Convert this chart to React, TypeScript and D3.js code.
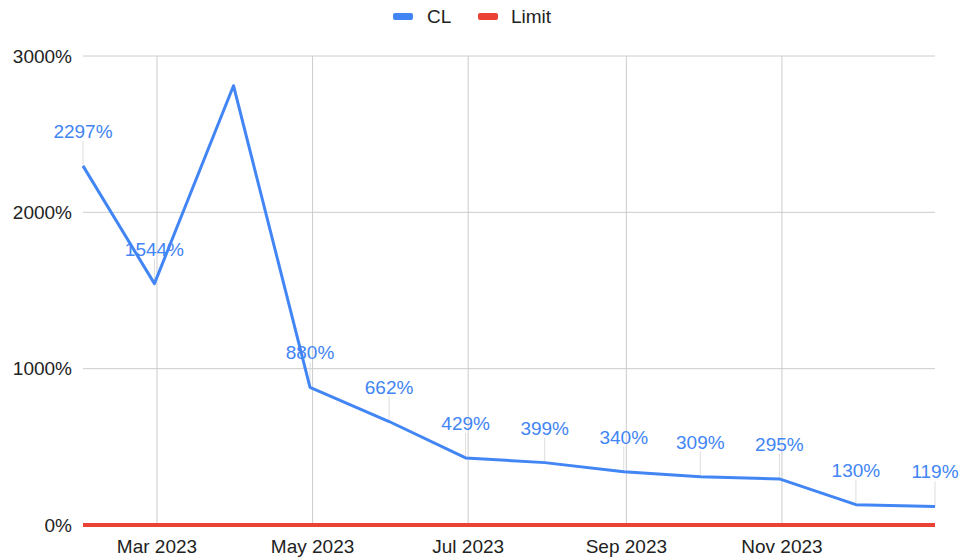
import React, { useEffect } from "react";
import * as d3 from "d3";

// month-end dates, Jan 2023 .. Dec 2023
const dates: string[] = [
  "2023-01-31",
  "2023-02-28",
  "2023-03-31",
  "2023-04-30",
  "2023-05-31",
  "2023-06-30",
  "2023-07-31",
  "2023-08-31",
  "2023-09-30",
  "2023-10-31",
  "2023-11-30",
  "2023-12-31",
];
const clValues: number[] = [2297, 1544, 2810, 880, 662, 429, 399, 340, 309, 295, 130, 119];
const limitValues: number[] = [0, 0, 0, 0, 0, 0, 0, 0, 0, 0, 0, 0];
const clLabelShown: boolean[] = [true, true, false, true, true, true, true, true, true, true, true, true];
const yTicks: number[] = [0, 1000, 2000, 3000];
const xTicks: string[] = ["2023-03-01", "2023-05-01", "2023-07-01", "2023-09-01", "2023-11-01"];

const W = 961;
const H = 560;
const margin = { top: 56, right: 26, bottom: 35, left: 83 };
const FONT = "'Liberation Sans', Arial, Helvetica, sans-serif";
const BLUE = "#4285f4";
const RED = "#ea4335";

const parse = d3.utcParse("%Y-%m-%d");

const App = () => {
  useEffect(() => {
    document.body.style.margin = "0";
  }, []);

  const x = d3
    .scaleUtc()
    .domain([parse(dates[0])!, parse(dates[dates.length - 1])!])
    .range([margin.left, W - margin.right]);
  const y = d3.scaleLinear().domain([0, 3000]).range([H - margin.bottom, margin.top]);

  const pts = dates.map((d, i) => ({ date: parse(d)!, cl: clValues[i], limit: limitValues[i], show: clLabelShown[i] }));

  const clLine = d3
    .line<(typeof pts)[number]>()
    .x((d) => x(d.date))
    .y((d) => y(d.cl));
  const limitLine = d3
    .line<(typeof pts)[number]>()
    .x((d) => x(d.date))
    .y((d) => y(d.limit));

  const fmt = d3.utcFormat("%b %Y");

  return (
    <svg width={W} height={H} style={{ display: "block", fontFamily: FONT }}>
      <rect width={W} height={H} fill="#fff" />

      {/* legend */}
      <g>
        <rect x={393} y={13} width={20} height={7} rx={2} fill={BLUE} />
        <text x={427} y={16} dominantBaseline="central" fontSize={19} fill="#222">
          CL
        </text>
        <rect x={478} y={13} width={20} height={7} rx={2} fill={RED} />
        <text x={511} y={16} dominantBaseline="central" fontSize={19} fill="#222">
          Limit
        </text>
      </g>

      {/* horizontal grid + y labels */}
      {yTicks.map((t) => (
        <g key={t}>
          <line x1={margin.left} x2={W - margin.right} y1={y(t)} y2={y(t)} stroke="#cccccc" strokeWidth={1} />
          <text x={72} y={y(t)} textAnchor="end" dominantBaseline="central" fontSize={19} fill="#222">
            {t}%
          </text>
        </g>
      ))}

      {/* vertical grid + x labels */}
      {xTicks.map((t) => {
        const px = x(parse(t)!);
        return (
          <g key={t}>
            <line x1={px} x2={px} y1={margin.top} y2={H - margin.bottom} stroke="#cccccc" strokeWidth={1} />
            <text x={px} y={H - margin.bottom + 28} textAnchor="middle" fontSize={19} fill="#222">
              {fmt(parse(t)!)}
            </text>
          </g>
        );
      })}

      {/* leader lines */}
      {pts
        .filter((p) => p.show)
        .map((p, i) => (
          <line
            key={"ld" + i}
            x1={x(p.date)}
            x2={x(p.date)}
            y1={y(p.cl)}
            y2={y(p.cl) - 25}
            stroke="#dddddd"
            strokeWidth={1}
          />
        ))}

      <path d={limitLine(pts) || ""} fill="none" stroke={RED} strokeWidth={4} />
      <path d={clLine(pts) || ""} fill="none" stroke={BLUE} strokeWidth={3} strokeLinejoin="round" />

      {/* data labels */}
      {pts
        .filter((p) => p.show)
        .map((p, i) => (
          <text key={"lb" + i} x={x(p.date)} y={y(p.cl) - 28} textAnchor="middle" fontSize={19} fill={BLUE}>
            {p.cl}%
          </text>
        ))}
    </svg>
  );
};

export default App;
